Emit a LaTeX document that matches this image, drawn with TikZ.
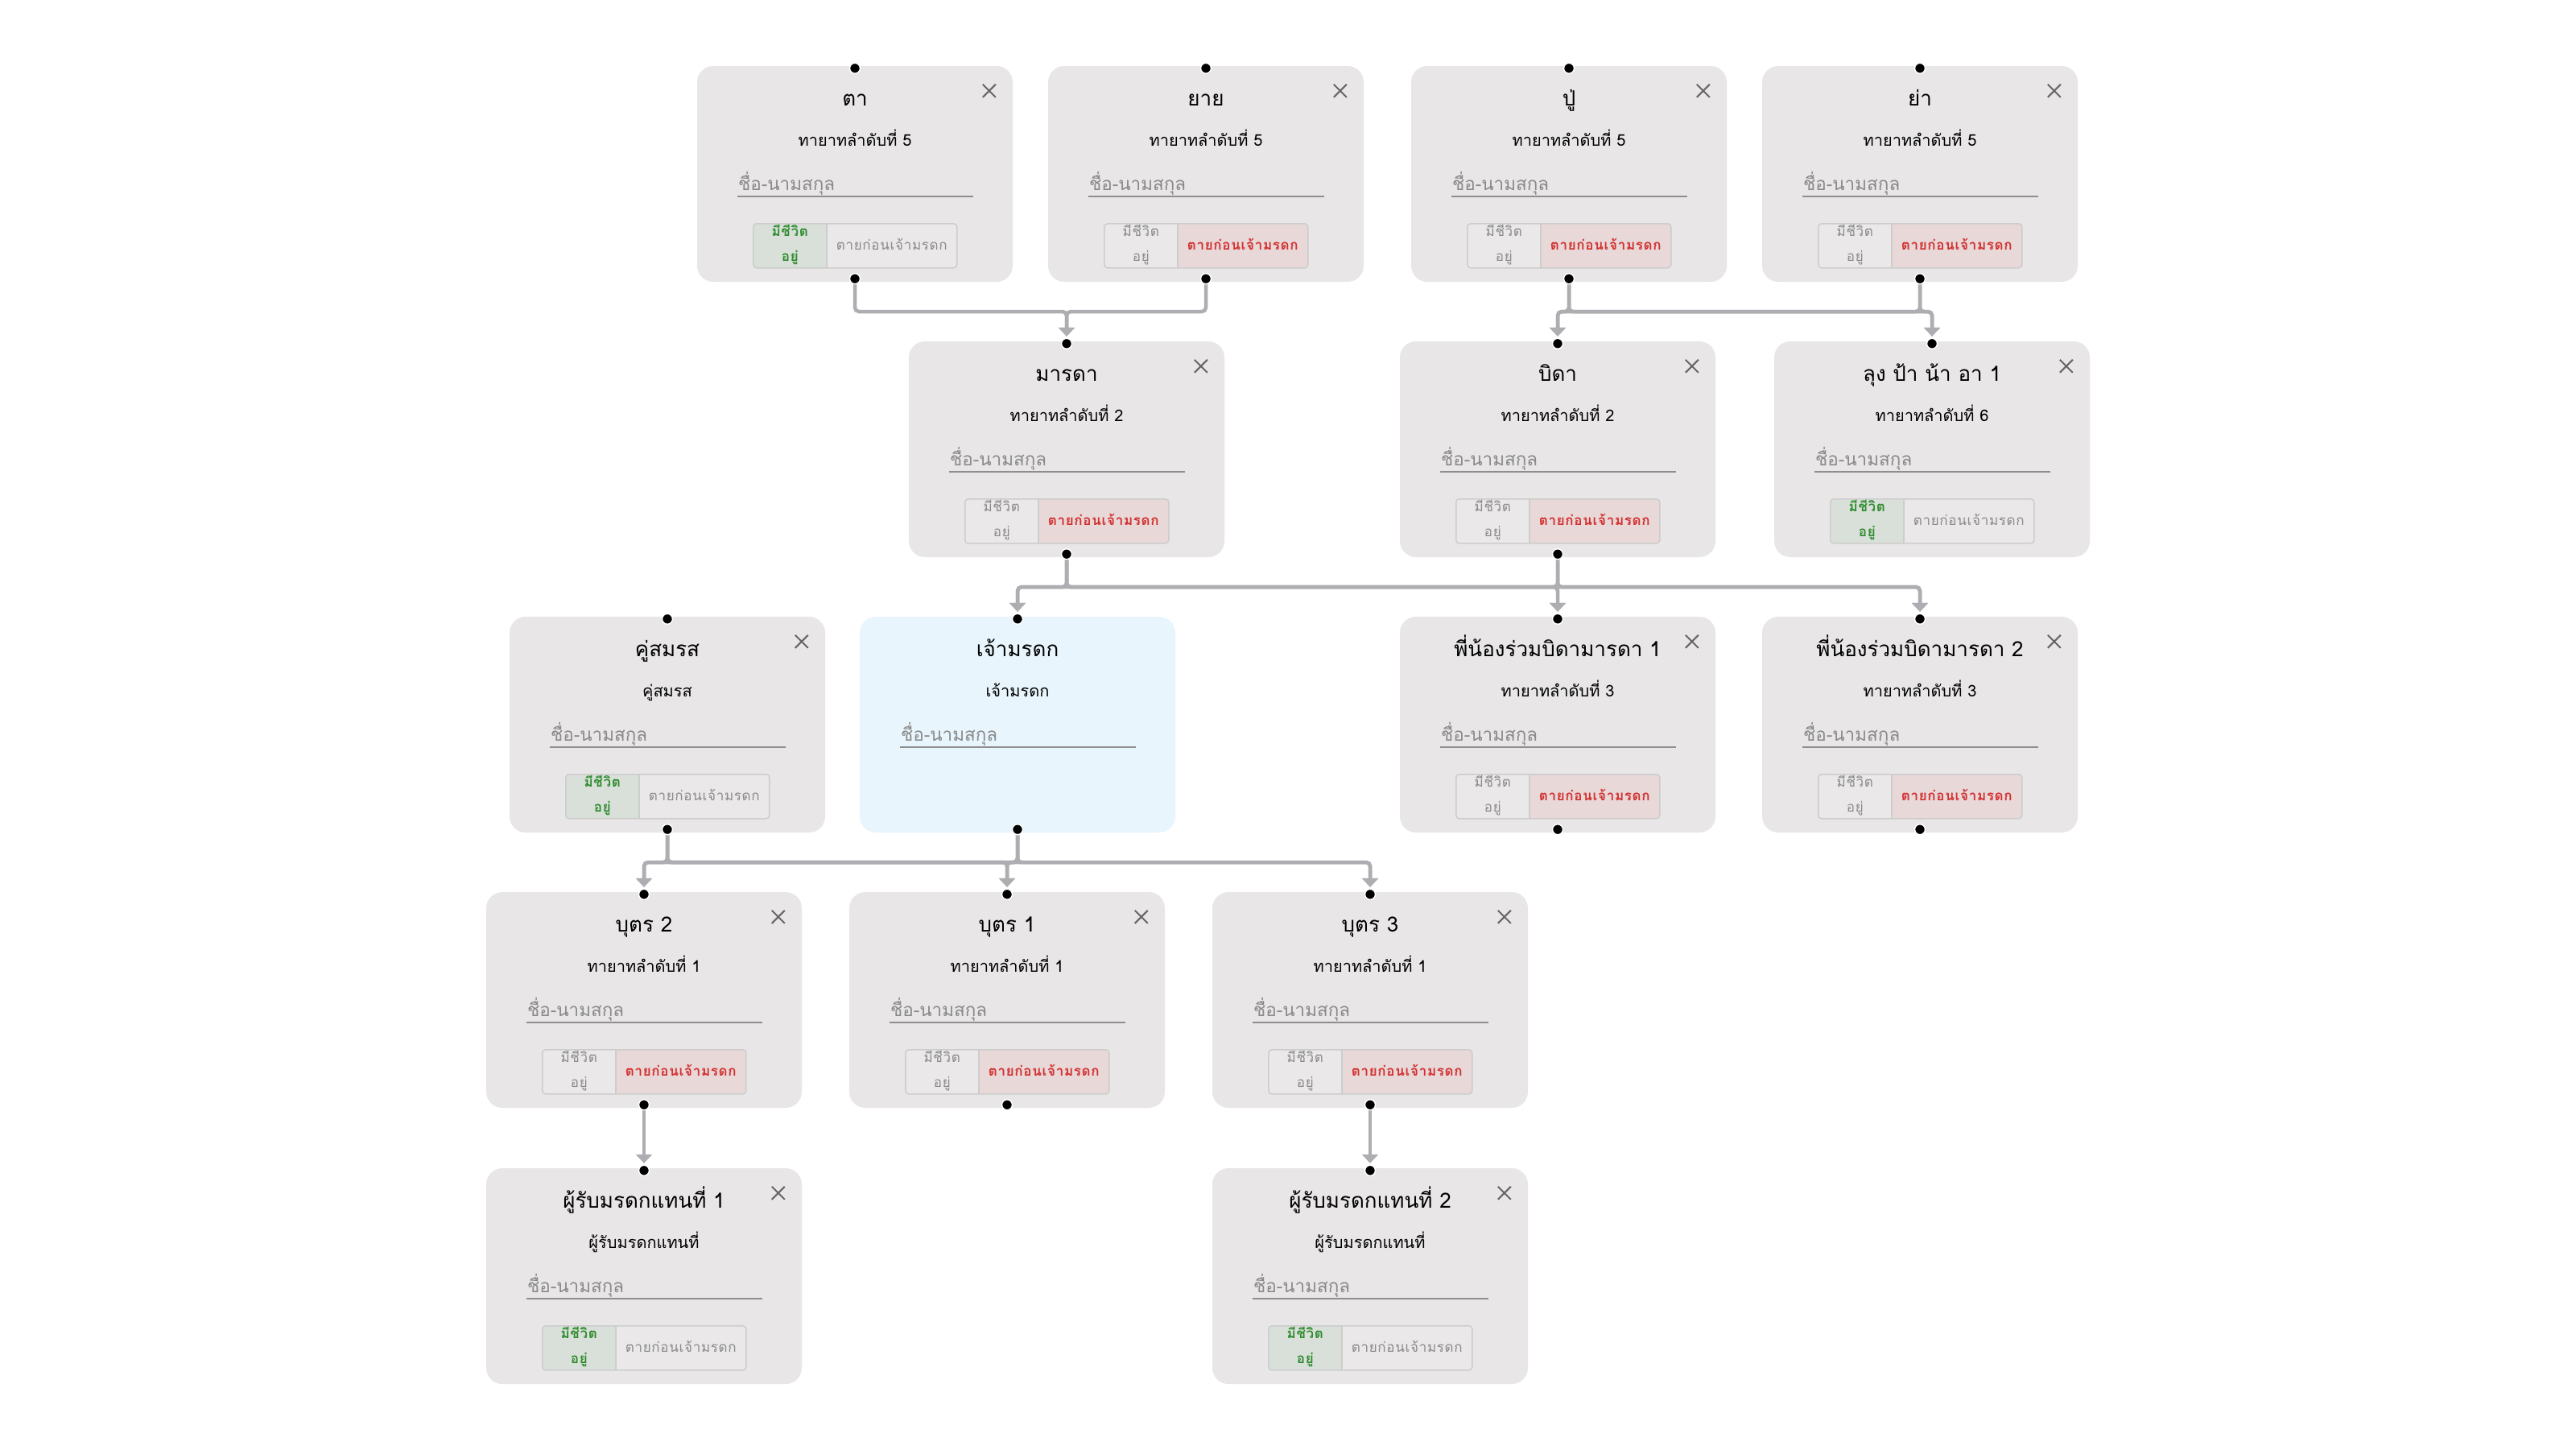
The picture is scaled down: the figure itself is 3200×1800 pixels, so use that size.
\documentclass[tikz,border=0pt]{standalone}
\usepackage{fontspec}
\newfontfamily\thai[Script=Thai]{Loma}
\newfontfamily\thaisp[Script=Thai,LetterSpace=4]{Loma}
\usetikzlibrary{arrows.meta,calc}
\pgfdeclarelayer{bg}
\pgfsetlayers{bg,main}

\definecolor{cardbg}{HTML}{E8E6E7}
\definecolor{ownerbg}{HTML}{E8F5FD}
\definecolor{wire}{HTML}{AEADB2}
\definecolor{hintgray}{HTML}{8A8A8A}
\definecolor{rulegray}{HTML}{8E8E8E}
\definecolor{xgray}{HTML}{666666}
\definecolor{tgborder}{HTML}{CDCDCD}
\definecolor{tgoff}{HTML}{EAE8E9}
\definecolor{alivebg}{HTML}{D9E0D9}
\definecolor{alivefg}{HTML}{2E8B2E}
\definecolor{deadbg}{HTML}{E8D8D8}
\definecolor{deadfg}{HTML}{D32F2F}
\definecolor{idlegray}{HTML}{8A8A8A}

\tikzset{
  card/.style={fill=cardbg, rounded corners=20pt, minimum width=392pt,
    minimum height=268pt, inner sep=0pt, draw=none},
  ownercard/.style={card, fill=ownerbg},
  ttl/.style={anchor=base, inner sep=0pt, font=\thai\fontsize{26}{30}\selectfont},
  sub/.style={anchor=base, inner sep=0pt, font=\thai\fontsize{20}{24}\selectfont},
  hint/.style={anchor=base west, inner sep=0pt, text=hintgray,
    font=\thai\fontsize{22.5}{26}\selectfont},
  uline/.style={draw=rulegray, line width=1.5pt},
  xmark/.style={draw=xgray, line width=2pt},
  tgframe/.style={draw=tgborder, line width=1.5pt},
  tg/.style={anchor=base, inner sep=0pt, font=\thaisp\fontsize{17}{20}\selectfont},
  idle/.style={text=idlegray},
  alive-on/.style={text=alivefg, font=\thaisp\bfseries\fontsize{17}{20}\selectfont},
  dead-on/.style={text=deadfg, font=\thaisp\bfseries\fontsize{17}{20}\selectfont},
  conn/.style={draw=wire, line width=4.5pt, rounded corners=5pt,
    -{Triangle[width=20pt,length=11pt]}, shorten >=9pt},
  straightconn/.style={draw=wire, line width=4.5pt,
    -{Triangle[width=20pt,length=11pt]}, shorten >=9pt},
  handledot/.style={fill=black, draw=white, line width=1.5pt},
}

% card: name, centre x, top y, title, subtitle, card style
\newcommand\famcard[6]{%
  \begin{pgfonlayer}{bg}
    \foreach \k in {1,...,10}{
      \pgfmathsetmacro\rr{20+3*\k}
      \fill[black, opacity=0.016, rounded corners=\rr pt]
        (#2-196-3*\k, #3+6-2*\k) rectangle (#2+196+3*\k, #3+274+4*\k);
    }
  \end{pgfonlayer}
  \node[#6] (#1) at (#2, #3+134) {};
  \node[ttl] (#1-t) at ($(#1.north)+(0,50)$) {#4};
  \node[sub] (#1-s) at ($(#1.north)+(0,100)$) {#5};
  \node[hint] (#1-h) at ($(#1.north west)+(51,155)$) {ชื่อ-นามสกุล};
  \draw[uline] ($(#1.north west)+(50,162)$) -- ($(#1.north west)+(343,162)$);
  \coordinate (#1-in) at ($(#1.north)+(0,3)$);
  \coordinate (#1-out) at ($(#1.south)+(0,-4)$);
}

\newcommand\closex[1]{%
  \draw[xmark] ($(#1.north west)+(355,23)$) -- ++(16,16)
               ($(#1.north west)+(371,23)$) -- ++(-16,16);
}

% two-part status switch: name, left fill, right fill, left text, right text
\newcommand\lifetoggle[5]{%
  \begin{scope}
    \clip[rounded corners=4pt] ($(#1.north west)+(70,196)$) rectangle ($(#1.north west)+(323,251)$);
    \fill[#2] ($(#1.north west)+(70,196)$) rectangle ($(#1.north west)+(161,251)$);
    \fill[#3] ($(#1.north west)+(161,196)$) rectangle ($(#1.north west)+(323,251)$);
  \end{scope}
  \draw[tgframe, rounded corners=4pt] ($(#1.north west)+(70,196)$) rectangle ($(#1.north west)+(323,251)$);
  \draw[tgframe] ($(#1.north west)+(161,196)$) -- ($(#1.north west)+(161,251)$);
  \node[tg, #4] (#1-l1) at ($(#1.north west)+(115.5,212)$) {มีชีวิต};
  \node[tg, #4] (#1-l2) at ($(#1.north west)+(115.5,243)$) {อยู่};
  \node[tg, #5] (#1-r) at ($(#1.north west)+(242,229)$) {ตายก่อนเจ้ามรดก};
}
\newcommand\alive[1]{\closex{#1}\lifetoggle{#1}{alivebg}{tgoff}{alive-on}{idle}}
\newcommand\dead[1]{\closex{#1}\lifetoggle{#1}{tgoff}{deadbg}{idle}{dead-on}}

\begin{document}
\begin{tikzpicture}[x=1pt, y=-1pt]
\fill[white] (0,0) rectangle (3200,1800);
\useasboundingbox (0,0) rectangle (3200,1800);

% grandparents
\famcard{ta}{1062}{82}{ตา}{ทายาทลำดับที่ 5}{card}\alive{ta}
\famcard{yai}{1498}{82}{ยาย}{ทายาทลำดับที่ 5}{card}\dead{yai}
\famcard{pu}{1949}{82}{ปู่}{ทายาทลำดับที่ 5}{card}\dead{pu}
\famcard{ya}{2385}{82}{ย่า}{ทายาทลำดับที่ 5}{card}\dead{ya}
% parents, uncles and aunts
\famcard{mo}{1325}{424}{มารดา}{ทายาทลำดับที่ 2}{card}\dead{mo}
\famcard{fa}{1935}{424}{บิดา}{ทายาทลำดับที่ 2}{card}\dead{fa}
\famcard{lu}{2400}{424}{ลุง ป้า น้า อา 1}{ทายาทลำดับที่ 6}{card}\alive{lu}
% the deceased, spouse and siblings
\famcard{sp}{829}{766}{คู่สมรส}{คู่สมรส}{card}\alive{sp}
\famcard{own}{1264}{766}{เจ้ามรดก}{เจ้ามรดก}{ownercard}
\famcard{sib1}{1935}{766}{พี่น้องร่วมบิดามารดา 1}{ทายาทลำดับที่ 3}{card}\dead{sib1}
\famcard{sib2}{2385}{766}{พี่น้องร่วมบิดามารดา 2}{ทายาทลำดับที่ 3}{card}\dead{sib2}
% children
\famcard{c2}{800}{1108}{บุตร 2}{ทายาทลำดับที่ 1}{card}\dead{c2}
\famcard{c1}{1251}{1108}{บุตร 1}{ทายาทลำดับที่ 1}{card}\dead{c1}
\famcard{c3}{1702}{1108}{บุตร 3}{ทายาทลำดับที่ 1}{card}\dead{c3}
% representation heirs
\famcard{r1}{800}{1451}{ผู้รับมรดกแทนที่ 1}{ผู้รับมรดกแทนที่}{card}\alive{r1}
\famcard{r2}{1702}{1451}{ผู้รับมรดกแทนที่ 2}{ผู้รับมรดกแทนที่}{card}\alive{r2}

% bus levels between rows
\coordinate (bus1) at (0,387);
\coordinate (bus2) at (0,729);
\coordinate (bus3) at (0,1071);

\draw[conn] (ta-out) -- (ta-out |- bus1) -| (mo-in);
\draw[conn] (yai-out) -- (yai-out |- bus1) -| (mo-in);
\draw[conn] (pu-out) -- (pu-out |- bus1) -| (fa-in);
\draw[conn] (pu-out) -- (pu-out |- bus1) -| (lu-in);
\draw[conn] (ya-out) -- (ya-out |- bus1) -| (fa-in);
\draw[conn] (ya-out) -- (ya-out |- bus1) -| (lu-in);

\draw[conn] (mo-out) -- (mo-out |- bus2) -| (own-in);
\draw[conn] (mo-out) -- (mo-out |- bus2) -| (sib1-in);
\draw[conn] (mo-out) -- (mo-out |- bus2) -| (sib2-in);
\draw[conn] (fa-out) -- (fa-out |- bus2) -| (own-in);
\draw[straightconn] (fa-out) -- (sib1-in);
\draw[conn] (fa-out) -- (fa-out |- bus2) -| (sib2-in);

\draw[conn] (sp-out) -- (sp-out |- bus3) -| (c2-in);
\draw[conn] (sp-out) -- (sp-out |- bus3) -| (c1-in);
\draw[conn] (sp-out) -- (sp-out |- bus3) -| (c3-in);
\draw[conn] (own-out) -- (own-out |- bus3) -| (c2-in);
\draw[conn] (own-out) -- (own-out |- bus3) -| (c1-in);
\draw[conn] (own-out) -- (own-out |- bus3) -| (c3-in);

\draw[straightconn] (c2-out) -- (r1-in);
\draw[straightconn] (c3-out) -- (r2-in);

% connection handles
\foreach \h in {ta-in,ta-out,yai-in,yai-out,pu-in,pu-out,ya-in,ya-out,
  mo-in,mo-out,fa-in,fa-out,lu-in,sp-in,sp-out,own-in,own-out,
  sib1-in,sib1-out,sib2-in,sib2-out,c2-in,c2-out,c1-in,c1-out,
  c3-in,c3-out,r1-in,r2-in}
  \path[handledot] (\h) circle[radius=6.5pt];
\end{tikzpicture}
\end{document}
